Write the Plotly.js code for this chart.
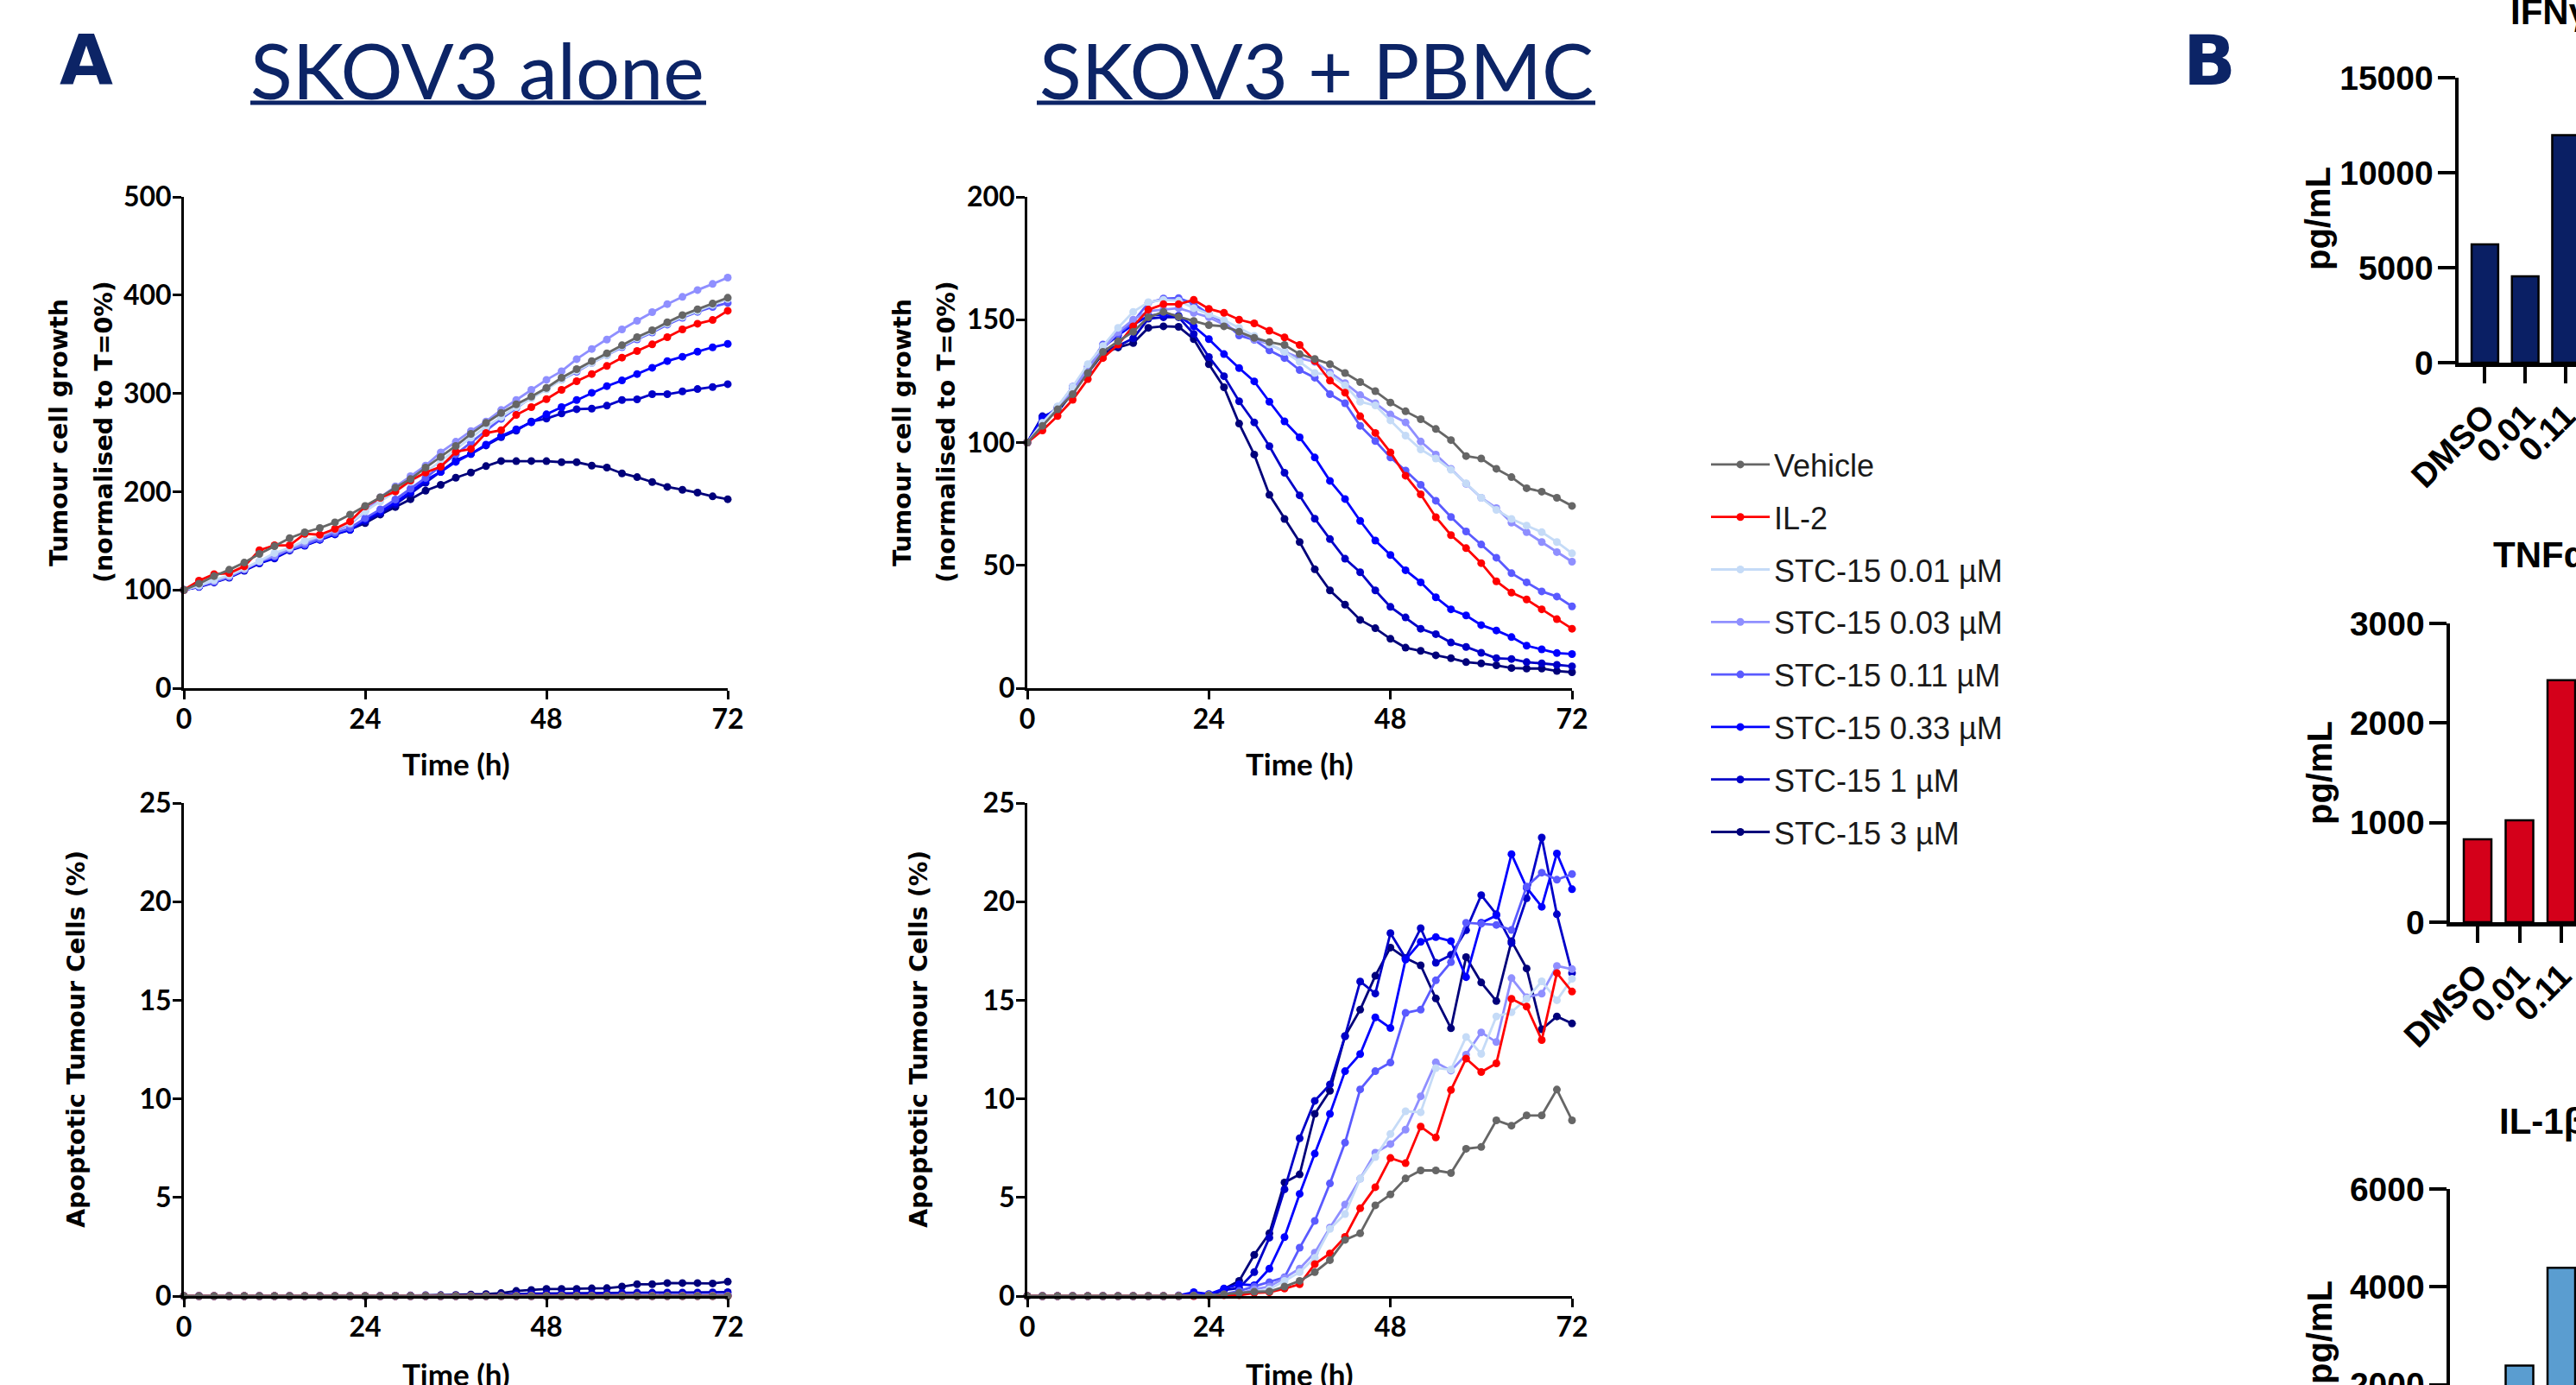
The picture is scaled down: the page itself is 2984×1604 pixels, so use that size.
<!DOCTYPE html>
<html><head><meta charset="utf-8">
<script src="https://cdn.plot.ly/plotly-3.0.1.min.js"></script>
<style>html,body{margin:0;padding:0;background:#fff}#chart{width:2984px;height:1604px}</style>
</head><body><div id="chart"></div>
<script>
// ---------------- DATA ----------------
const hours = [0,2,4,6,8,10,12,14,16,18,20,22,24,26,28,30,32,34,36,38,40,42,44,46,48,50,52,54,56,58,60,62,64,66,68,70,72];
const seriesNames = ['Vehicle','IL-2','STC-15 0.01 µM','STC-15 0.03 µM','STC-15 0.11 µM','STC-15 0.33 µM','STC-15 1 µM','STC-15 3 µM'];
const seriesColors = ['#666666','#ff0000','#c5dbf7','#8f8fff','#5a5aff','#0000ff','#0000c8','#00007a'];

// SKOV3 alone - tumour cell growth (% of T=0)
const aloneVehicle = [100,106.4,114.1,120.5,127.8,136.6,144.5,152.7,158.6,163,168.8,176.7,185.5,194.3,204,212.8,224.5,235.3,246.5,258.8,269.9,280.1,288.9,296.8,305.6,315.9,324.7,332.9,340.8,349,357.2,364.2,372.4,379.7,385.6,391.4,397.3];
const aloneIL2 = [100,109.4,116.1,117,124,140.4,145.4,145.4,157.1,156.2,162.1,169.7,184.9,193.7,200.2,211.3,219.5,225.4,240.6,243.5,259.6,262.6,278.1,286,294.2,303.6,312.4,319.7,327.9,336.4,343.1,349.9,357.2,365.1,370.9,374.7,384.1];
const alone001 = [100,104.5,110,115,122,129.3,137.5,143,150,155,162,168,180,190,200,210,220,231,243,255,266,276,286,295,304,314,323,331,339,348,356,363,371,378,384,390,396];
const alone003 = [100,104,109,114,121,129,135,142,148,154,160,167,180,194.3,205.4,215.7,226.5,240,250.8,261.7,271.4,283.1,293.3,303.6,313.8,322.6,334.9,345.2,354.8,365.1,373.9,382.7,390.9,398.2,405.2,411.4,417.8];
const alone011 = [100,103.5,108.2,113.2,120.5,128.5,134,141,146,152,158,163,173,182,192,203,214,226,238,250,262,274,285,296,305,314,322,331,339,347,355,362,370,377,383,388,392];
const alone033 = [100,103.5,108.2,113.2,120.5,127.8,132.8,141,145.4,151.3,157.1,161.5,171.8,180,189,200,211.9,220.1,230.3,238.3,247.9,256.7,263.4,270.5,278.7,286,293.3,300.6,307.4,313.2,319.7,326.1,332.9,337.3,342.5,346.9,350.4];
const alone1 = [100,103,107.5,112.5,119.5,127,132,140,145,151,156.5,161,170,178,187,198,209,220.1,231.8,238.3,247,255.5,262,271.4,274.3,279.6,283.9,284.5,287.5,293.3,293.9,299.2,299.2,302.1,304.4,306.5,309.4];
const alone3 = [100,103.5,108.2,113.2,120.5,127.8,132.8,141,145.4,151.3,157.1,161.5,168,176.7,184.4,192.3,201,206.9,214.2,219.5,226,231.2,231,231.2,231,230,230,226.5,224.5,218.6,214.8,209.8,204.8,201.9,199,195.2,192.3];

// SKOV3 + PBMC - tumour cell growth
const pbmcVehicle = [100,106.8,113.5,119.7,128.3,136.9,141.2,145.1,151,153.2,151.2,149.5,147.8,147.3,145.1,142.6,140.9,139.7,136,134,131.9,128.3,124.6,120.9,116.3,112.7,109.5,105.5,101,94.5,93.5,89.3,85.9,81.4,80,77.5,74.2];
const pbmcIL2 = [100,104.9,110.8,117.4,125.8,134.4,139.9,147.3,154.1,156.3,156.3,158.1,154.4,152.8,150,148.5,145.5,142.8,139.7,133.2,125.2,120.3,110.7,103.9,96,86.5,78.9,69.6,62.3,57,50.9,43.5,38.9,36.1,32.1,28.1,24.2];
const pbmc001 = [100,108,114.7,122.7,131.9,139.3,146.7,153.2,157.1,158.1,157.7,154.7,152.2,149.8,146.7,143.4,139.9,136.9,132.8,128.3,127.6,123.3,116.6,115.1,109,102.8,97.2,93.5,88.9,83.4,77.5,72.6,68.9,66.2,63.5,59.5,54.9];
const pbmc003 = [100,107,114,121,130,138,145,150,153.5,154.1,154.7,152.8,151,148,145,142,140,137,134.4,132.8,128.6,124.2,119.3,116,111.4,108.2,100.4,95.1,89.3,83.2,77.5,73.3,67.4,63.5,59.5,55.4,51.5];
const pbmc011 = [100,108,114.5,122,131,139.9,144.2,149.1,156.9,158.6,158.8,156.5,152.2,149.1,143.6,141.8,137.5,134.4,129.5,126.4,119.7,116,106.8,100.6,93.9,88.6,82.8,76.3,69.7,63.8,58.5,53.1,46.8,43.1,39.4,37.3,33.3];
const pbmc033 = [100,109.8,114.1,122.7,130.1,138.7,143.6,147.9,151.6,152.2,151.6,147.3,142.1,136,130.3,124.9,116.6,108.6,102.1,93.9,84.4,77,68.1,60.1,54.2,48,43.1,37,32.1,29.6,25.7,23.5,20.8,17.3,15.8,14.3,13.9];
const pbmc1 = [100,110.7,112.9,120.9,128.9,137.5,139.3,142.4,150.4,151,151,144.2,134.8,127,116.8,108.2,98.5,87.7,78.5,69,60.7,52.7,47.2,39.8,33.1,28.8,24.2,22,18.6,16.8,14.4,12.2,11.9,10.6,10.1,9.5,8.9];
const pbmc3 = [100,110.4,112.5,120.5,128.5,136.2,138.7,140.5,146.7,147.3,147.1,142.1,131.9,122.5,107.7,95.1,78.7,68.9,59.5,48.4,39.8,34,27.8,24.4,20.1,16.5,15.2,13.4,12.2,10.6,10.1,9.3,8.2,8,8,7,6.5];

// SKOV3 alone - apoptotic tumour cells (%)
const apAloneVehicle = [0,0,0,0,0,0,0,0,0,0,0,0,0,0,0,0,0,0,0,0,0,0,0,0,0,0,0,0,0,0,0,0,0,0,0,0,0];
const apAloneIL2 = [0,0,0,0,0,0,0,0,0,0,0,0,0,0,0,0,0,0,0,0,0,0,0,0,0,0,0,0,0,0,0,0,0,0,0,0,0];
const apAlone001 = [0,0,0,0,0,0,0,0,0,0,0,0,0,0,0,0,0,0,0,0,0,0,0,0,0,0,0,0,0,0,0,0,0,0,0,0,0];
const apAlone003 = [0,0,0,0,0,0,0,0,0,0,0,0,0,0,0,0,0,0,0,0,0,0,0,0,0,0,0,0,0,0,0,0,0,0,0,0,0];
const apAlone011 = [0,0,0,0,0,0,0,0,0,0,0,0,0,0,0,0,0,0,0,0,0,0,0,0,0,0,0,0,0,0,0,0,0,0.01,0.01,0.02,0.02];
const apAlone033 = [0,0,0,0,0,0,0,0,0,0,0,0,0,0,0,0,0,0,0,0,0,0,0,0,0,0,0.02,0.02,0.03,0.03,0.03,0.04,0.04,0.04,0.05,0.05,0.05];
const apAlone1 = [0,0,0,0,0,0,0,0,0,0,0,0,0,0,0,0,0,0,0,0,0.02,0.04,0.1,0.12,0.13,0.13,0.14,0.14,0.15,0.16,0.17,0.17,0.18,0.18,0.18,0.19,0.2];
const apAlone3 = [0,0,0,0,0,0,0,0,0,0,0,0,0,0.01,0.02,0.03,0.04,0.05,0.06,0.08,0.1,0.15,0.26,0.31,0.36,0.36,0.36,0.39,0.4,0.48,0.6,0.6,0.66,0.66,0.66,0.64,0.73];

// SKOV3 + PBMC - apoptotic tumour cells (%)
const apPbmcVehicle = [0,0,0,0,0,0,0,0,0,0,0,0.02,0.04,0.09,0.16,0.22,0.23,0.48,0.77,1.21,1.82,2.85,3.18,4.6,5.15,5.96,6.37,6.37,6.24,7.47,7.56,8.91,8.64,9.16,9.16,10.47,8.91];
const apPbmcIL2 = [0,0,0,0,0,0,0,0,0,0,0,0,0.02,0.04,0.04,0.16,0.19,0.38,0.6,1.62,2.16,3.0,4.45,5.52,7.0,6.74,8.59,8.04,10.45,12.04,11.36,11.8,15.07,14.68,12.98,16.38,15.44];
const apPbmc001 = [0,0,0,0,0,0,0,0,0,0,0,0,0.03,0.05,0.09,0.22,0.34,0.77,1.21,1.94,3.4,4.16,5.95,7.05,8.22,9.37,9.32,11.56,11.48,13.14,12.28,14.18,14.39,15.08,15.96,15.0,16.09];
const apPbmc003 = [0,0,0,0,0,0,0,0,0,0,0,0,0.04,0.07,0.12,0.34,0.48,0.92,1.39,2.2,3.47,4.64,5.95,7.27,7.71,8.44,10.13,11.85,11.43,12.24,13.37,12.88,16.12,15.15,15.33,16.74,16.58];
const apPbmc011 = [0,0,0,0,0,0,0,0,0,0,0,0.03,0.05,0.09,0.26,0.48,0.7,0.95,2.45,3.81,5.71,7.78,10.48,11.4,11.84,14.36,14.52,16.01,16.93,18.93,18.88,18.82,18.56,20.76,21.47,21.11,21.4];
const apPbmc033 = [0,0,0,0,0,0,0,0,0,0,0.03,0.2,0.1,0.38,0.6,0.55,1.39,2.99,5.18,7.22,9.24,11.4,12.27,14.13,13.59,17.06,17.96,18.2,18.0,16.17,18.93,19.3,22.41,20.71,19.74,22.44,20.63];
const apPbmc1 = [0,0,0,0,0,0,0,0,0,0,0,0.05,0.03,0.3,0.41,1.21,2.96,5.41,8.0,9.9,10.73,13.18,15.95,15.34,18.4,17.14,18.65,16.9,17.3,18.55,20.33,19.36,17.9,20.17,23.25,19.36,16.38];
const apPbmc3 = [0,0,0,0,0,0,0,0,0,0,0,0.03,0.05,0.36,0.77,2.09,3.18,5.76,6.17,9.24,10.41,13.18,14.52,16.24,17.67,17.14,16.77,15.09,13.58,17.19,15.9,14.96,18.0,16.61,13.53,14.18,13.82];

// Panel B cytokines (pg/mL)
const cytoCats = ['DMSO','0.01','0.11'];
const ifngVals = [6230, 4550, 11980];
const tnfaVals = [832, 1023, 2430];
const il1bVals = [1500, 2390, 4390];

// ---------------- LAYOUT HELPERS ----------------
const W = 2984, H = 1604;
const px = x => x / W;
const py = y => 1 - y / H;
const NAVY = '#0c2466';
const F_TICK = 'Lato, "Open Sans", sans-serif';
const F_AXT = '"DejaVu Sans", Verdana, sans-serif';
const F_ARIAL = '"Liberation Sans", Arial, Helvetica, sans-serif';

const panels = [
  {xa:'x',  ya:'y',  data:[aloneVehicle,aloneIL2,alone001,alone003,alone011,alone033,alone1,alone3], legend:true},
  {xa:'x2', ya:'y2', data:[pbmcVehicle,pbmcIL2,pbmc001,pbmc003,pbmc011,pbmc033,pbmc1,pbmc3]},
  {xa:'x3', ya:'y3', data:[apAloneVehicle,apAloneIL2,apAlone001,apAlone003,apAlone011,apAlone033,apAlone1,apAlone3]},
  {xa:'x4', ya:'y4', data:[apPbmcVehicle,apPbmcIL2,apPbmc001,apPbmc003,apPbmc011,apPbmc033,apPbmc1,apPbmc3]}
];

const traces = [];
panels.forEach(p => {
  for (let s = 7; s >= 0; s--) {
    traces.push({
      type: 'scatter', mode: 'lines+markers',
      x: hours, y: p.data[s], xaxis: p.xa, yaxis: p.ya,
      name: seriesNames[s], legendgroup: 'g' + s, legendrank: s + 1,
      showlegend: !!p.legend,
      line: {color: seriesColors[s], width: 2.8},
      marker: {color: seriesColors[s], size: 9},
      cliponaxis: false, hoverinfo: 'x+y+name'
    });
  }
});

const barSpec = [
  {xa:'x5', ya:'y5', vals: ifngVals, color:'#0a1f64'},
  {xa:'x6', ya:'y6', vals: tnfaVals, color:'#d4001a'},
  {xa:'x7', ya:'y7', vals: il1bVals, color:'#5a9dd0'}
];
barSpec.forEach(b => traces.push({
  type:'bar', x: cytoCats, y: b.vals, xaxis: b.xa, yaxis: b.ya,
  width: 0.66, showlegend: false,
  marker: {color: b.color, line: {color:'#000', width: 2.5}}
}));

function lineAxis(anchor, domain, range, tickvals, isY) {
  return {
    anchor, domain, range, tickvals, tickmode:'array', fixedrange:true,
    showline:true, linecolor:'#000', linewidth:3, mirror:false,
    ticks:'outside', ticklen:10, tickwidth:3, tickcolor:'#000',
    showgrid:false, zeroline:false, ticklabelstandoff: isY ? -5 : -4,
    tickfont:{family:F_TICK, size:32, color:'#000', weight:700}
  };
}
function barYAxis(anchor, domain, range, tickvals) {
  return {
    anchor, domain, range, tickvals, tickmode:'array', tickformat:'d', fixedrange:true,
    showline:true, linecolor:'#000', linewidth:4.5,
    ticks:'outside', ticklen:20, tickwidth:4, tickcolor:'#000',
    showgrid:false, zeroline:false, ticklabeloverflow:'allow', ticklabelstandoff:-3,
    tickfont:{family:F_ARIAL, size:39, color:'#000', weight:700}
  };
}
function barXAxis(anchor, domain, range, show) {
  return {
    anchor, domain, range, type:'category', categoryorder:'array', categoryarray: cytoCats, fixedrange:true,
    tickmode:'array', tickvals: cytoCats, ticktext: cytoCats,
    showline: show, linecolor:'#000', linewidth:4.5,
    ticks: show ? 'outside' : '', ticklen:19, tickwidth:4, tickcolor:'#000',
    showticklabels: show, tickangle:-45, ticklabeloverflow:'allow',
    showgrid:false, zeroline:false,
    tickfont:{family:F_ARIAL, size:39, color:'#000', weight:700}
  };
}

const xL = [px(213), px(843)], xM = [px(1190), px(1821)];
const yTop = [py(797), py(228)], yBot = [py(1501), py(930)];

const layout = {
  width: W, height: H,
  margin: {l:0, r:0, t:0, b:0, pad:0},
  paper_bgcolor:'#fff', plot_bgcolor:'rgba(0,0,0,0)',
  showlegend: true,
  legend: {
    x: px(1977), xanchor:'left', y: py(508), yanchor:'top',
    font: {family: F_ARIAL, size: 36, color:'#1a1a1a'},
    traceorder:'grouped', tracegroupgap: 11, itemwidth: 68,
    bgcolor:'rgba(0,0,0,0)', borderwidth:0
  },
  xaxis:  lineAxis('y',  xL, [0,72], [0,24,48,72], false),
  yaxis:  lineAxis('x',  yTop, [0,500], [0,100,200,300,400,500], true),
  xaxis2: lineAxis('y2', xM, [0,72], [0,24,48,72], false),
  yaxis2: lineAxis('x2', yTop, [0,200], [0,50,100,150,200], true),
  xaxis3: lineAxis('y3', xL, [0,72], [0,24,48,72], false),
  yaxis3: lineAxis('x3', yBot, [0,25], [0,5,10,15,20,25], true),
  xaxis4: lineAxis('y4', xM, [0,72], [0,24,48,72], false),
  yaxis4: lineAxis('x4', yBot, [0,25], [0,5,10,15,20,25], true),
  xaxis5: barXAxis('y5', [px(2848), 1], [-0.653, 2.26], true),
  yaxis5: barYAxis('x5', [py(420), py(90)], [0,15000], [0,5000,10000,15000]),
  xaxis6: barXAxis('y6', [px(2838), 1], [-0.66, 2.35], true),
  yaxis6: barYAxis('x6', [py(1068), py(722)], [0,3000], [0,1000,2000,3000]),
  xaxis7: barXAxis('y7', [px(2838), 1], [-0.66, 2.35], false),
  yaxis7: barYAxis('x7', [0, py(1377)], [1995,6000], [2000,4000,6000]),
  bargap: 0.3,
  shapes: [
    {type:'line', xref:'paper', yref:'paper', x0:px(290), x1:px(818), y0:py(119), y1:py(119), line:{color:NAVY, width:5}},
    {type:'line', xref:'paper', yref:'paper', x0:px(1201), x1:px(1848), y0:py(119), y1:py(119), line:{color:NAVY, width:5}}
  ],
  annotations: []
};

function ann(text, x, y, font, extra) {
  layout.annotations.push(Object.assign({
    text, x: px(x), y: py(y), xref:'paper', yref:'paper',
    showarrow:false, xanchor:'center', yanchor:'middle', font
  }, extra || {}));
}
const fPanel = {family:F_AXT, size:80, color:NAVY, weight:700};
const fTitle = {family:F_TICK, size:90, color:NAVY, weight:400};
const fAxT = {family:F_AXT, size:28.5, color:'#000', weight:700};
const fTime = {family:F_TICK, size:35, color:'#000', weight:700};
const fB = {family:F_ARIAL, size:40, color:'#000', weight:700};
const fBT = {family:F_ARIAL, size:42, color:'#000', weight:700};

ann('A', 100, 70, fPanel);
ann('B', 2559, 70, fPanel);
ann('SKOV3 alone', 553, 80, fTitle);
ann('SKOV3 + PBMC', 1525, 80, fTitle);
// y titles, growth panels
ann('Tumour cell growth', 68, 501, fAxT, {textangle:-90});
ann('(normalised to T=0%)', 120, 500, fAxT, {textangle:-90});
ann('Tumour cell growth', 1045, 501, fAxT, {textangle:-90});
ann('(normalised to T=0%)', 1096, 500, fAxT, {textangle:-90});
ann('Apoptotic Tumour Cells (%)', 88, 1204, fAxT, {textangle:-90});
ann('Apoptotic Tumour Cells (%)', 1064, 1204, fAxT, {textangle:-90});
// x titles
ann('Time (h)', 528, 884, fTime);
ann('Time (h)', 1505, 884, fTime);
ann('Time (h)', 528, 1591, fTime);
ann('Time (h)', 1505, 1591, fTime);
// panel B
ann('pg/mL', 2685, 253, fB, {textangle:-90});
ann('pg/mL', 2687, 895, fB, {textangle:-90});
ann('pg/mL', 2687, 1543, fB, {textangle:-90});
ann('IFNγ', 2906, 14, fBT, {xanchor:'left'});
ann('TNFα', 2886, 642, fBT, {xanchor:'left'});
ann('IL-1β', 2893, 1298, fBT, {xanchor:'left'});

Plotly.newPlot('chart', traces, layout, {staticPlot:true, displayModeBar:false});
</script>
</body></html>
